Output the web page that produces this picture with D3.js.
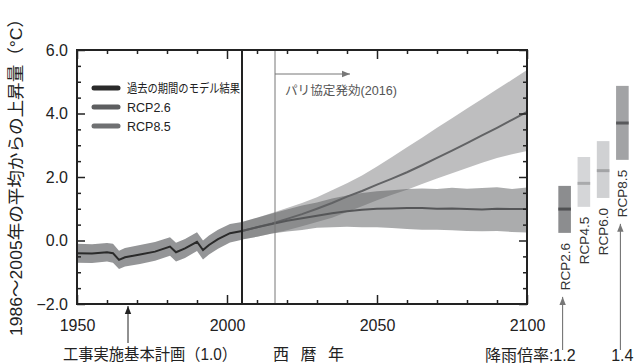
<!DOCTYPE html>
<html>
<head>
<meta charset="utf-8">
<script src="https://cdn.jsdelivr.net/npm/d3@7"></script>
<style>
  body { margin: 0; background: #fff; }
  text { font-family: "Liberation Sans", "Noto Sans CJK JP", sans-serif; fill: #222; }
</style>
</head>
<body>
<svg id="chart" width="634" height="364"></svg>
<script>
// historical model run (1950-2005)
var histYears = [1950, 1955, 1960, 1962, 1964, 1966, 1971, 1976, 1981, 1983, 1986, 1990, 1992, 1994, 1997, 2001, 2005];
var histMean  = [-0.40, -0.41, -0.37, -0.40, -0.61, -0.53, -0.44, -0.35, -0.19, -0.37, -0.25, -0.04, -0.30, -0.14, 0.04, 0.23, 0.30];
var histHi    = [-0.10, -0.12, -0.08, -0.10, -0.32, -0.24, -0.14, -0.05, 0.10, -0.07, 0.05, 0.26, 0.00, 0.16, 0.34, 0.52, 0.58];
var histLo    = [-0.70, -0.71, -0.66, -0.70, -0.90, -0.82, -0.74, -0.64, -0.48, -0.66, -0.55, -0.33, -0.60, -0.44, -0.26, -0.06, 0.02];

// projections 2005-2100, every 5 years
var futYears = [2005, 2010, 2015, 2020, 2025, 2030, 2035, 2040, 2045, 2050, 2055, 2060, 2065, 2070, 2075, 2080, 2085, 2090, 2095, 2100];
var rcp26Mean = [0.30, 0.42, 0.52, 0.62, 0.70, 0.78, 0.86, 0.92, 0.97, 1.00, 1.01, 1.02, 1.02, 1.00, 1.01, 0.99, 0.98, 1.00, 0.99, 0.99];
var rcp26Hi   = [0.58, 0.72, 0.85, 0.98, 1.10, 1.20, 1.32, 1.42, 1.50, 1.55, 1.58, 1.62, 1.64, 1.62, 1.66, 1.63, 1.65, 1.68, 1.62, 1.67];
var rcp26Lo   = [0.03, 0.12, 0.22, 0.28, 0.33, 0.40, 0.42, 0.43, 0.42, 0.42, 0.39, 0.36, 0.34, 0.34, 0.32, 0.30, 0.29, 0.30, 0.27, 0.25];
var rcp85Mean = [0.30, 0.42, 0.54, 0.68, 0.83, 1.00, 1.18, 1.38, 1.56, 1.76, 1.95, 2.15, 2.37, 2.60, 2.83, 3.07, 3.31, 3.55, 3.80, 4.05];
var rcp85Hi   = [0.58, 0.72, 0.87, 1.02, 1.18, 1.36, 1.58, 1.80, 2.05, 2.33, 2.63, 2.94, 3.24, 3.55, 3.85, 4.16, 4.46, 4.76, 5.06, 5.37];
var rcp85Lo   = [0.03, 0.12, 0.22, 0.32, 0.45, 0.58, 0.72, 0.90, 1.08, 1.27, 1.44, 1.60, 1.78, 1.95, 2.12, 2.28, 2.45, 2.60, 2.72, 2.82];

// ranges at end of century on the right
var scenarios = ["RCP2.6", "RCP4.5", "RCP6.0", "RCP8.5"];
var rangeLo   = [0.24, 1.06, 1.34, 2.54];
var rangeMed  = [0.99, 1.80, 2.20, 3.70];
var rangeHi   = [1.72, 2.63, 3.13, 4.87];
var rainLabels = [{ s: "RCP2.6", t: "降雨倍率:1.2" }, { s: "RCP8.5", t: "1.4" }];

var yMajor = [-2, 0, 2, 4, 6];
var yMinor = [-1.5, -1, -0.5, 0.5, 1, 1.5, 2.5, 3, 3.5, 4.5, 5, 5.5];
var xMajor = [1950, 2000, 2050, 2100];
var xMinor = [1960, 1970, 1980, 1990, 2010, 2020, 2030, 2040, 2060, 2070, 2080, 2090];
var legendItems = ["過去の期間のモデル結果", "RCP2.6", "RCP8.5"];

var svg = d3.select("#chart");
var pLeft = 77, pRight = 527, pTop = 50, pBottom = 304;

var x = d3.scaleLinear().domain([1950, 2100]).range([pLeft, pRight]);
var y = d3.scaleLinear().domain([-2, 6]).range([pBottom, pTop]);

function area(years, lo, hi) {
    return d3.area()
        .x(function (d, i) { return x(years[i]); })
        .y0(function (d, i) { return y(lo[i]); })
        .y1(function (d, i) { return y(hi[i]); })(years);
}
function line(years, vals) {
    return d3.line()
        .x(function (d, i) { return x(years[i]); })
        .y(function (d, i) { return y(vals[i]); })(years);
}

// bands
svg.append("path").attr("d", area(futYears, rcp85Lo, rcp85Hi))
    .attr("fill", "#7d7e80").attr("fill-opacity", 0.5);
svg.append("path").attr("d", area(futYears, rcp26Lo, rcp26Hi))
    .attr("fill", "#58595b").attr("fill-opacity", 0.5);
svg.append("path").attr("d", area(histYears, histLo, histHi))
    .attr("fill", "#949597");

// mean lines
svg.append("path").attr("d", line(futYears, rcp85Mean))
    .attr("fill", "none").attr("stroke", "#626365").attr("stroke-width", 2);
svg.append("path").attr("d", line(futYears, rcp26Mean))
    .attr("fill", "none").attr("stroke", "#555658").attr("stroke-width", 2);
svg.append("path").attr("d", line(histYears, histMean))
    .attr("fill", "none").attr("stroke", "#2a2a2a").attr("stroke-width", 2);

// 2005 and 2016 markers
svg.append("line").attr("x1", x(2005)).attr("x2", x(2005)).attr("y1", pTop).attr("y2", pBottom)
    .attr("stroke", "#222").attr("stroke-width", 2);
svg.append("line").attr("x1", x(2016)).attr("x2", x(2016)).attr("y1", pTop).attr("y2", pBottom)
    .attr("stroke", "#777").attr("stroke-width", 1);

var defs = svg.append("defs");
[["headGrey", "#777"], ["headBlack", "#222"]].forEach(function (m) {
    defs.append("marker")
        .attr("id", m[0]).attr("viewBox", "0 0 10 10").attr("refX", 10).attr("refY", 5)
        .attr("markerWidth", 8).attr("markerHeight", 8).attr("markerUnits", "userSpaceOnUse")
        .attr("orient", "auto")
        .append("path").attr("d", "M0,1L10,5L0,9Z").attr("fill", m[1]);
});

svg.append("line").attr("x1", x(2016)).attr("x2", x(2041)).attr("y1", 74).attr("y2", 74)
    .attr("stroke", "#777").attr("stroke-width", 1).attr("marker-end", "url(#headGrey)");
svg.append("text").attr("x", x(2016) + 10).attr("y", 95)
    .attr("font-size", 12.5).attr("textLength", 112).attr("lengthAdjust", "spacingAndGlyphs")
    .style("fill", "#555").text("パリ協定発効(2016)");

// axes (ticks point inward)
function noDomain(g) { g.select(".domain").remove(); }
svg.append("g").attr("transform", "translate(" + pLeft + ",0)")
    .call(d3.axisLeft(y).tickValues(yMajor).tickSize(-8).tickPadding(9).tickFormat(d3.format(".1f")))
    .call(noDomain)
    .call(function (g) { g.selectAll("text").attr("font-size", 16).style("fill", "#222"); });
svg.append("g").attr("transform", "translate(" + pLeft + ",0)")
    .call(d3.axisLeft(y).tickValues(yMinor).tickSize(-4).tickFormat("")).call(noDomain);
svg.append("g").attr("transform", "translate(" + pRight + ",0)")
    .call(d3.axisRight(y).tickValues(yMajor).tickSize(-8).tickFormat("")).call(noDomain);
svg.append("g").attr("transform", "translate(" + pRight + ",0)")
    .call(d3.axisRight(y).tickValues(yMinor).tickSize(-4).tickFormat("")).call(noDomain);
svg.append("g").attr("transform", "translate(0," + pBottom + ")")
    .call(d3.axisBottom(x).tickValues(xMajor).tickSize(-9).tickPadding(16).tickFormat(d3.format("d")))
    .call(noDomain)
    .call(function (g) { g.selectAll("text").attr("font-size", 16).style("fill", "#222"); });
svg.append("g").attr("transform", "translate(0," + pBottom + ")")
    .call(d3.axisBottom(x).tickValues(xMinor).tickSize(-4).tickFormat("")).call(noDomain);
svg.append("g").attr("transform", "translate(0," + pTop + ")")
    .call(d3.axisTop(x).tickValues(xMajor).tickSize(-9).tickFormat("")).call(noDomain);
svg.append("g").attr("transform", "translate(0," + pTop + ")")
    .call(d3.axisTop(x).tickValues(xMinor).tickSize(-4).tickFormat("")).call(noDomain);
svg.selectAll(".tick line").attr("stroke", "#222").attr("stroke-width", 1.5);

svg.append("rect").attr("x", pLeft).attr("y", pTop).attr("width", pRight - pLeft).attr("height", pBottom - pTop)
    .attr("fill", "none").attr("stroke", "#222").attr("stroke-width", 2);

// legend
var lg = svg.append("g");
legendItems.forEach(function (name, i) {
    var ly = 88 + i * 19;
    lg.append("line").attr("x1", 94).attr("x2", 118).attr("y1", ly).attr("y2", ly)
        .attr("stroke", ["#2a2a2a", "#5d5e60", "#6f7072"][i]).attr("stroke-width", 5).attr("stroke-linecap", "round");
    var t = lg.append("text").attr("x", 127).attr("y", ly + 4.5).attr("font-size", 12.5).text(name);
    if (i === 0) t.attr("textLength", 113).attr("lengthAdjust", "spacingAndGlyphs");
});

// axis titles and notes
svg.append("text").attr("transform", "translate(22,173) rotate(-90)")
    .attr("text-anchor", "middle").attr("font-size", 17)
    .attr("textLength", 326).attr("lengthAdjust", "spacingAndGlyphs")
    .text("1986～2005年の平均からの上昇量（°C）");
svg.append("text").attr("x", 273).attr("y", 360).attr("font-size", 16)
    .attr("textLength", 71).attr("lengthAdjust", "spacing").text("西暦年");
svg.append("text").attr("x", 63).attr("y", 360).attr("font-size", 16)
    .attr("textLength", 174).attr("lengthAdjust", "spacingAndGlyphs").text("工事実施基本計画（1.0）");
svg.append("line").attr("x1", x(1967)).attr("x2", x(1967)).attr("y1", 343).attr("y2", 306)
    .attr("stroke", "#222").attr("stroke-width", 1).attr("marker-end", "url(#headBlack)");

// end-of-century ranges
var bx = d3.scalePoint().domain(scenarios).range([555, 632]).padding(0.5);
var bw = 12.6;
var fills = ["#8c8d8f", "#d5d6d8", "#d0d1d3", "#a2a3a5"];
var meds = ["#505153", "#a9aaac", "#a3a4a6", "#58595b"];
scenarios.forEach(function (s, i) {
    svg.append("rect").attr("x", bx(s) - bw / 2).attr("width", bw)
        .attr("y", y(rangeHi[i])).attr("height", y(rangeLo[i]) - y(rangeHi[i])).attr("fill", fills[i]);
    svg.append("line").attr("x1", bx(s) - bw / 2).attr("x2", bx(s) + bw / 2)
        .attr("y1", y(rangeMed[i])).attr("y2", y(rangeMed[i]))
        .attr("stroke", meds[i]).attr("stroke-width", 3);
    svg.append("text").attr("transform", "translate(" + (bx(s) + 5) + "," + (y(rangeLo[i]) + 10) + ") rotate(-90)")
        .attr("text-anchor", "end").attr("font-size", 13.5).style("fill", "#333").text(s);
});
rainLabels.forEach(function (r) {
    var i = scenarios.indexOf(r.s);
    var ax = bx(r.s) - 2;
    svg.append("line").attr("x1", ax).attr("x2", ax).attr("y1", 350).attr("y2", y(rangeLo[i]) + 64)
        .attr("stroke", "#666").attr("stroke-width", 1).attr("marker-end", "url(#headGrey)");
    svg.append("text").attr("x", bx(r.s) + 11).attr("y", 361).attr("text-anchor", "end")
        .attr("font-size", 16).text(r.t);
});
</script>
</body>
</html>
